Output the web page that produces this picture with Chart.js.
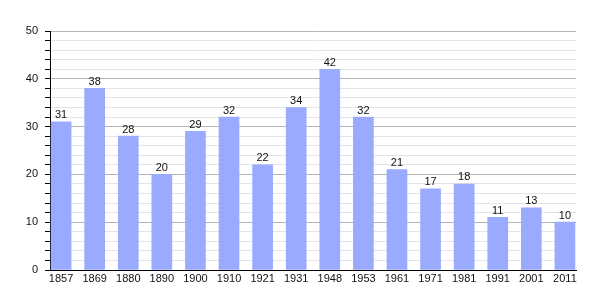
<!DOCTYPE html>
<html><head><meta charset="utf-8">
<script src="https://cdn.jsdelivr.net/npm/chart.js@4/dist/chart.umd.min.js"></script>
<style>html,body{margin:0;padding:0;background:#fff}#wrap{width:605px;height:300px}</style>
</head><body><div id="wrap"><canvas id="c" width="605" height="300"></canvas></div>
<script>
const years = ["1857","1869","1880","1890","1900","1910","1921","1931","1948","1953","1961","1971","1981","1991","2001","2011"];
const population = [31,38,28,20,29,32,22,34,42,32,21,17,18,11,13,10];
const yMax = 50;

const FONT = "'Liberation Sans', Arial, sans-serif";
const valueLabels = {
  id: 'valueLabels',
  afterDatasetsDraw(chart) {
    const ctx = chart.ctx;
    const meta = chart.getDatasetMeta(0);
    ctx.save();
    ctx.font = "11px " + FONT;
    ctx.fillStyle = '#111';
    ctx.textAlign = 'center';
    ctx.textBaseline = 'bottom';
    meta.data.forEach((bar, i) => {
      ctx.fillText(String(population[i]), bar.x, bar.y - 1);
    });
    ctx.restore();
  }
};

new Chart(document.getElementById('c'), {
  type: 'bar',
  data: {
    datasets: [{
      data: population.map((v, i) => ({x: i, y: v})),
      backgroundColor: '#99aaff',
      borderWidth: 0,
      barThickness: 20
    }]
  },
  options: {
    responsive: false,
    animation: false,
    devicePixelRatio: 1,
    layout: {padding: {top: 31, right: 29, left: 0, bottom: 0}},
    plugins: {legend: {display: false}, tooltip: {enabled: false}},
    scales: {
      x: {
        type: 'linear',
        offset: false,
        min: -0.33,
        max: 15.33,
        afterFit(s) { s.height = 30; },
        afterBuildTicks(s) { s.ticks = years.map((_, i) => ({value: i})); },
        grid: {display: false, drawTicks: false, tickLength: 0},
        border: {display: true, color: '#000', width: 1},
        ticks: {
          autoSkip: false, maxRotation: 0, padding: 2,
          color: '#111', font: {family: FONT, size: 11},
          callback: (v) => years[v] !== undefined ? years[v] : ''
        }
      },
      y: {
        min: 0, max: yMax,
        afterFit(s) { s.width = 50; },
        border: {display: true, color: '#000', width: 1},
        grid: {
          color: (c) => (c.tick && c.tick.value % 10 === 0) ? '#b4b4b4' : '#e4e4e4',
          tickColor: '#000',
          tickLength: 5,
          drawTicks: true
        },
        ticks: {
          stepSize: 2, autoSkip: false, padding: 7,
          color: '#111', font: {family: FONT, size: 11},
          callback: (v) => v % 10 === 0 ? String(v) : ''
        }
      }
    }
  },
  plugins: [valueLabels]
});
</script></body></html>
